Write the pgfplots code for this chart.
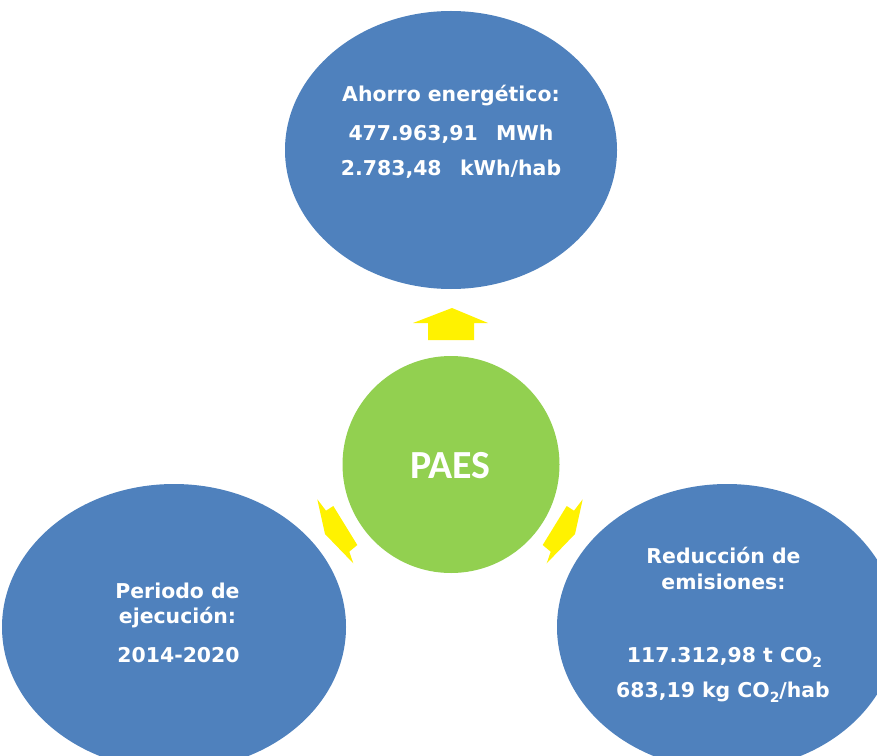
\documentclass[border=0pt]{standalone}
\usepackage{fontspec}
\setmainfont{DejaVu Sans}
\newfontfamily\calib{Carlito}
\usepackage{pgfplots}
\pgfplotsset{compat=1.18}
\definecolor{ovalblue}{HTML}{4F81BD}
\definecolor{ovalgreen}{HTML}{92D050}
\newcommand{\sub}[1]{\raisebox{-0.45ex}{\fontsize{14}{14}\selectfont #1}}
\begin{document}
\begin{tikzpicture}
\begin{axis}[
  width=877bp, height=756bp, scale only axis,
  xmin=0, xmax=877, ymin=0, ymax=756, y dir=reverse,
  axis lines=none, clip=true,
]
% ovals
\draw[fill=ovalblue, draw=none] (axis cs:451,150) ellipse [x radius=166, y radius=139];
\draw[fill=ovalblue, draw=none] (axis cs:174,627) ellipse [x radius=172, y radius=143];
\draw[fill=ovalblue, draw=none] (axis cs:727,627) ellipse [x radius=170, y radius=143];
\draw[fill=ovalgreen, draw=none] (axis cs:451,464.5) circle [radius=108.5];
% yellow arrows
\addplot[fill=yellow, draw=none] coordinates {(413,323) (452,308) (488,323) (474,323) (474,340) (428,340) (428,323)} --cycle;
\addplot[fill=yellow, draw=none] coordinates {(317.3,499.3) (326,510.7) (333.3,506) (357.3,545) (349.3,551.7) (353.3,563.3) (325,534)} --cycle;
\addplot[fill=yellow, draw=none] coordinates {(582.7,499.3) (574,510.7) (566.7,506) (542.7,545) (550.7,551.7) (546.7,563.3) (575,534)} --cycle;
% texts
\begin{scope}[every node/.style={text=white, font=\fontsize{20.5}{24}\selectfont\bfseries, anchor=base, inner sep=0pt}]
\node at (axis cs:451,102) {Ahorro energético:};
\node at (axis cs:451,141) {477.963,91\hspace{0.9em}MWh};
\node at (axis cs:451,176) {2.783,48\hspace{0.9em}kWh/hab};
\node at (axis cs:177.5,598) {Periodo de};
\node at (axis cs:177.5,623) {ejecución:};
\node at (axis cs:178.5,662) {2014-2020};
\node at (axis cs:723.5,563) {Reducción de};
\node at (axis cs:723.5,589) {emisiones:};
\node at (axis cs:724.5,662) {117.312,98 t CO\sub{2}};
\node at (axis cs:723,697) {683,19 kg CO\sub{2}/hab};
\end{scope}
\node[text=white, font=\calib\bfseries\fontsize{40}{48}\selectfont, anchor=base, inner sep=0pt] at (axis cs:450.5,478) {PAES};
\end{axis}
\pgfresetboundingbox
\path (current axis.south west) rectangle (current axis.north east);
\end{tikzpicture}
\end{document}
